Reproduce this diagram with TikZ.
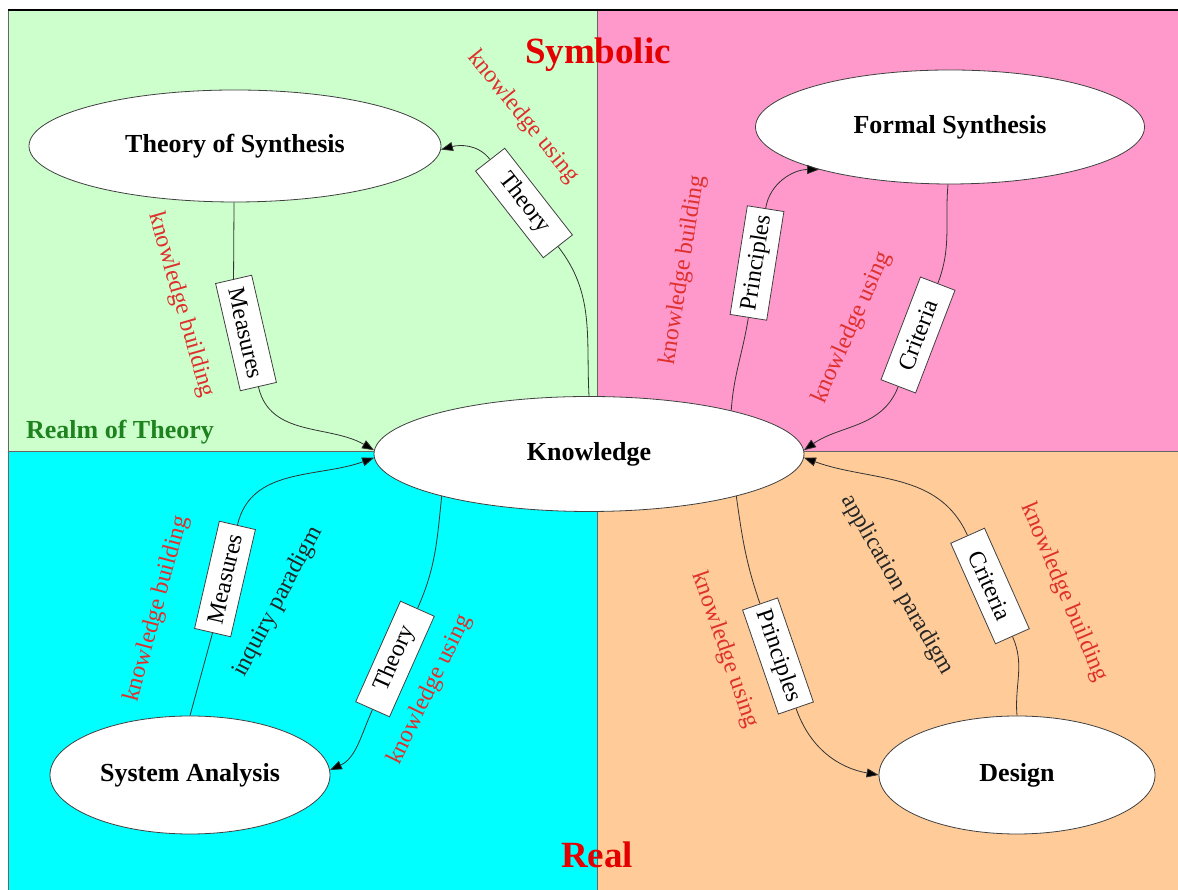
\documentclass[tikz,border=0pt]{standalone}
\usepackage{fontspec}
\setmainfont{Liberation Serif}
\usetikzlibrary{shapes.geometric,arrows.meta}

\definecolor{theorybg}{RGB}{204,255,204}
\definecolor{symbolbg}{RGB}{255,153,204}
\definecolor{analysisbg}{RGB}{0,255,255}
\definecolor{designbg}{RGB}{255,204,153}
\definecolor{lblred}{RGB}{222,48,44}
\definecolor{titlered}{RGB}{228,0,0}
\definecolor{realmgreen}{RGB}{30,130,30}

\tikzset{
  flow/.style={line width=0.8pt, black!80},
  tip/.style={flow, -{Triangle[length=12pt,width=9pt,fill=black]}},
}

\newcommand{\cn}{\node[ellipse, draw=black!75, line width=0.8pt, fill=white, inner sep=0pt, font=\fontsize{26}{30}\selectfont\bfseries]}
\newcommand{\bxn}{\node[draw=black!75, line width=0.8pt, fill=white, minimum width=110pt, minimum height=37pt, inner sep=2pt, font=\fontsize{24}{28}\selectfont]}
\newcommand{\redn}{\node[text=lblred, inner sep=0pt, font=\fontsize{24}{28}\selectfont]}
\newcommand{\blkn}{\node[text=black!85, inner sep=0pt, font=\fontsize{24}{28}\selectfont]}

\begin{document}
\begin{tikzpicture}[x=1pt, y=1pt]
            \useasboundingbox (0,0) rectangle (1178,890);

            % four realms
            \fill[theorybg] (8,439) rectangle (597,880);
            \fill[symbolbg] (597,439) rectangle (1178,880);
            \fill[analysisbg] (8,0) rectangle (597,439);
            \fill[designbg] (597,0) rectangle (1178,439);
            \draw[black!60, line width=0.8pt]
                (597,0) -- (597,880)
                (8,439) -- (1178,439)
                (8,0) -- (8,880);
            \draw[line width=2.5pt] (8,880) -- (1178,880);

            \node[text=titlered, font=\fontsize{37}{40}\selectfont\bfseries] (sym) at (598,835) {Symbolic};
            \node[text=titlered, font=\fontsize{37}{40}\selectfont\bfseries] (real) at (597,35) {Real};
            \node[text=realmgreen, font=\fontsize{26}{30}\selectfont\bfseries] (realm) at (120,458) {Realm of Theory};

            \cn[minimum width=412pt, minimum height=112pt] (tos) at (235,744) {Theory of Synthesis};
            \cn[minimum width=389pt, minimum height=114pt] (fs) at (950,763) {Formal Synthesis};
            \cn[minimum width=430pt, minimum height=115pt] (k) at (589,436) {Knowledge};
            \cn[minimum width=280pt, minimum height=118pt] (sa) at (190,115) {System Analysis};
            \cn[minimum width=276pt, minimum height=118pt] (d) at (1017,115) {Design};

            \bxn[rotate=-77] (m1) at (246,557) {Measures};
            \bxn[rotate=-52] (t1) at (524,687) {Theory};
            \bxn[rotate=81] (p1) at (757,627) {Principles};
            \bxn[rotate=69] (c1) at (918,555) {Criteria};
            \bxn[rotate=-71] (p2) at (778,234) {Principles};
            \bxn[rotate=-66] (c2) at (990,304) {Criteria};
            \bxn[rotate=77] (m2) at (225,311) {Measures};
            \bxn[rotate=66] (t2) at (395,231) {Theory};

            \redn[rotate=-74] (kb1) at (181,585) {knowledge building};
            \redn[rotate=-51] (ku1) at (523,773) {knowledge using};
            \redn[rotate=81] (kb2) at (683,620) {knowledge building};
            \redn[rotate=66] (ku2) at (852,562) {knowledge using};
            \redn[rotate=-71] (ku3) at (725,240) {knowledge using};
            \redn[rotate=-67] (kb3) at (1064,298) {knowledge building};
            \redn[rotate=75] (kb4) at (157,281) {knowledge building};
            \redn[rotate=64] (ku4) at (430,200) {knowledge using};
            \blkn[rotate=-60] (ap) at (897,305) {application paradigm};
            \blkn[rotate=62] (ip) at (278,288) {inquiry paradigm};

            \draw[flow]
                (tos.-91) -- (m1.west)
                (k.north) to[out=93, in=-52] (t1.east)
                (k.17) to[out=86, in=-99] (p1.west)
                (fs.-92) to[out=-95, in=69] (c1.east)
                (k.-16) to[out=-82, in=109] (p2.west)
                (d.north) to[out=95, in=-66] (c2.east)
                (sa.north) -- (m2.west)
                (k.196) to[out=-96, in=66] (t2.east)
                ;

            \draw[tip] (m1.east) to[out=-77, in=150] (k.179);
            \draw[tip] (t1.west) to[out=128, in=15] (tos.-1);
            \draw[tip] (p1.east) to[out=81, in=180] (fs.198);
            \draw[tip] (c1.west) to[out=249, in=35] (k.1);
            \draw[tip] (p2.east) to[out=-71, in=170] (d.west);
            \draw[tip] (c2.west) to[out=114, in=-20] (k.-1);
            \draw[tip] (m2.east) to[out=77, in=200] (k.181);
            \draw[tip] (t2.west) to[out=246, in=25] (sa.2);

\end{tikzpicture}
\end{document}
